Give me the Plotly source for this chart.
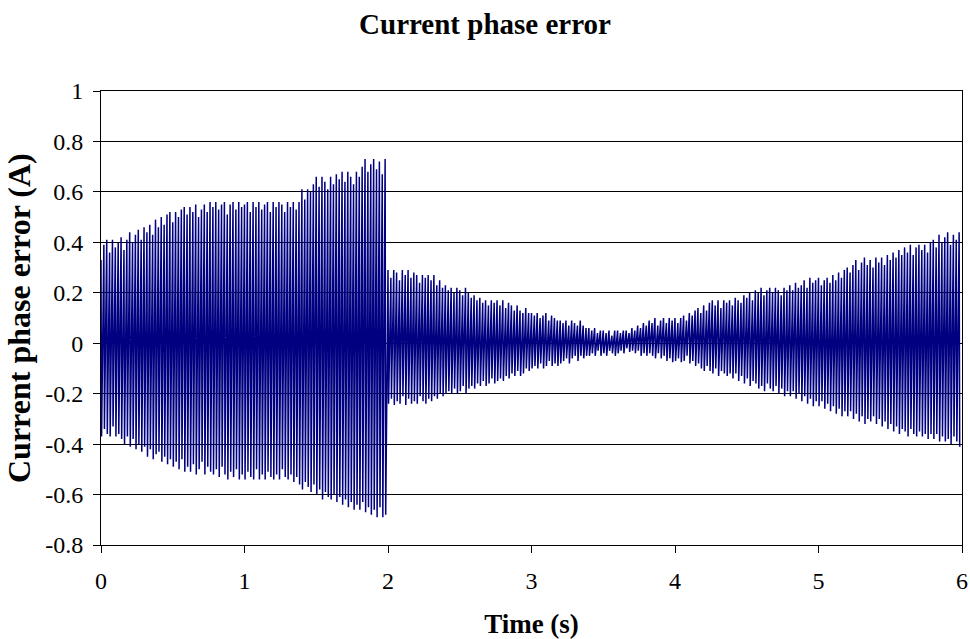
import numpy as np
import plotly.graph_objects as go

# Upper peak of each 0.02 s cycle (A), one row per second, starting at t = 0.00
upper_peaks = [
    # 0 - 1 s
    0.33, 0.39, 0.41, 0.36, 0.41, 0.38, 0.40, 0.42, 0.37, 0.41,
    0.44, 0.40, 0.43, 0.45, 0.41, 0.46, 0.44, 0.47, 0.43, 0.49,
    0.46, 0.50, 0.47, 0.51, 0.52, 0.48, 0.52, 0.50, 0.53, 0.54,
    0.51, 0.54, 0.52, 0.55, 0.50, 0.53, 0.55, 0.52, 0.56, 0.54,
    0.56, 0.53, 0.55, 0.56, 0.51, 0.55, 0.56, 0.53, 0.56, 0.54,
    # 1 - 2 s
    0.55, 0.56, 0.52, 0.56, 0.54, 0.56, 0.53, 0.55, 0.56, 0.52,
    0.56, 0.54, 0.56, 0.55, 0.52, 0.56, 0.54, 0.56, 0.53, 0.56,
    0.61, 0.57, 0.61, 0.60, 0.63, 0.66, 0.62, 0.66, 0.64, 0.61,
    0.66, 0.63, 0.67, 0.65, 0.68, 0.64, 0.68, 0.66, 0.63, 0.68,
    0.66, 0.70, 0.73, 0.68, 0.71, 0.73, 0.69, 0.72, 0.67, 0.73,
    # 2 - 3 s
    0.29, 0.26, 0.29, 0.28, 0.25, 0.29, 0.27, 0.29, 0.26, 0.28,
    0.27, 0.24, 0.27, 0.26, 0.27, 0.25, 0.27, 0.23, 0.25, 0.22,
    0.23, 0.21, 0.22, 0.20, 0.22, 0.21, 0.19, 0.22, 0.20, 0.18,
    0.19, 0.17, 0.18, 0.16, 0.17, 0.15, 0.17, 0.16, 0.17, 0.15,
    0.17, 0.14, 0.16, 0.15, 0.13, 0.15, 0.13, 0.12, 0.14, 0.12,
    # 3 - 4 s
    0.12, 0.11, 0.12, 0.10, 0.11, 0.12, 0.09, 0.11, 0.10, 0.09,
    0.09, 0.08, 0.09, 0.07, 0.09, 0.08, 0.07, 0.09, 0.07, 0.06,
    0.06, 0.05, 0.06, 0.04, 0.05, 0.05, 0.04, 0.05, 0.03, 0.05,
    0.05, 0.04, 0.05, 0.05, 0.04, 0.06, 0.05, 0.07, 0.06, 0.08,
    0.07, 0.09, 0.08, 0.10, 0.07, 0.09, 0.10, 0.08, 0.10, 0.09,
    # 4 - 5 s
    0.10, 0.08, 0.10, 0.11, 0.09, 0.12, 0.11, 0.13, 0.14, 0.12,
    0.15, 0.13, 0.16, 0.17, 0.15, 0.17, 0.14, 0.17, 0.16, 0.17,
    0.15, 0.18, 0.17, 0.16, 0.19, 0.18, 0.20, 0.17, 0.21, 0.20,
    0.22, 0.19, 0.21, 0.22, 0.20, 0.22, 0.21, 0.19, 0.22, 0.21,
    0.23, 0.21, 0.24, 0.22, 0.23, 0.25, 0.22, 0.26, 0.24, 0.25,
    # 5 - 6 s
    0.26, 0.23, 0.25, 0.26, 0.24, 0.27, 0.25, 0.28, 0.26, 0.29,
    0.30, 0.28, 0.31, 0.33, 0.29, 0.32, 0.34, 0.31, 0.33, 0.30,
    0.34, 0.32, 0.34, 0.31, 0.35, 0.33, 0.36, 0.34, 0.37, 0.35,
    0.38, 0.36, 0.39, 0.35, 0.38, 0.39, 0.37, 0.39, 0.36, 0.40,
    0.41, 0.38, 0.43, 0.40, 0.42, 0.44, 0.39, 0.43, 0.41, 0.44,
]

# Lower peak of each 0.02 s cycle (A), one row per second
lower_peaks = [
    # 0 - 1 s
    -0.37, -0.34, -0.36, -0.37, -0.33, -0.37, -0.36, -0.38, -0.40, -0.37,
    -0.41, -0.38, -0.42, -0.40, -0.43, -0.41, -0.45, -0.42, -0.46, -0.44,
    -0.43, -0.47, -0.45, -0.48, -0.46, -0.49, -0.47, -0.50, -0.46, -0.51,
    -0.49, -0.51, -0.48, -0.52, -0.50, -0.47, -0.52, -0.49, -0.51, -0.52,
    -0.50, -0.53, -0.49, -0.52, -0.54, -0.51, -0.53, -0.50, -0.54, -0.52,
    # 1 - 2 s
    -0.54, -0.51, -0.53, -0.54, -0.50, -0.54, -0.52, -0.54, -0.51, -0.53,
    -0.54, -0.52, -0.54, -0.50, -0.53, -0.54, -0.52, -0.55, -0.53, -0.56,
    -0.58, -0.55, -0.57, -0.59, -0.56, -0.60, -0.58, -0.62, -0.59, -0.61,
    -0.62, -0.60, -0.63, -0.61, -0.64, -0.62, -0.65, -0.63, -0.66, -0.64,
    -0.66, -0.63, -0.67, -0.65, -0.68, -0.66, -0.69, -0.65, -0.69, -0.68,
    # 2 - 3 s
    -0.24, -0.22, -0.245, -0.23, -0.24, -0.21, -0.245, -0.22, -0.24, -0.23,
    -0.24, -0.21, -0.23, -0.24, -0.22, -0.23, -0.21, -0.22, -0.20, -0.21,
    -0.20, -0.19, -0.20, -0.18, -0.20, -0.19, -0.17, -0.20, -0.18, -0.17,
    -0.18, -0.16, -0.17, -0.15, -0.17, -0.16, -0.14, -0.16, -0.15, -0.14,
    -0.15, -0.13, -0.14, -0.12, -0.13, -0.11, -0.13, -0.12, -0.10, -0.11,
    # 3 - 4 s
    -0.10, -0.09, -0.10, -0.08, -0.10, -0.09, -0.07, -0.09, -0.08, -0.09,
    -0.08, -0.07, -0.06, -0.08, -0.06, -0.05, -0.07, -0.05, -0.06, -0.05,
    -0.05, -0.04, -0.05, -0.03, -0.05, -0.04, -0.05, -0.03, -0.04, -0.05,
    -0.04, -0.03, -0.04, -0.02, -0.035, -0.03, -0.04, -0.03, -0.05, -0.04,
    -0.05, -0.04, -0.05, -0.06, -0.04, -0.06, -0.05, -0.07, -0.06, -0.075,
    # 4 - 5 s
    -0.07, -0.06, -0.075, -0.07, -0.05, -0.08, -0.07, -0.09, -0.08, -0.10,
    -0.11, -0.09, -0.11, -0.12, -0.10, -0.13, -0.11, -0.12, -0.13, -0.12,
    -0.14, -0.12, -0.15, -0.13, -0.16, -0.14, -0.17, -0.15, -0.16, -0.18,
    -0.17, -0.19, -0.16, -0.18, -0.19, -0.17, -0.20, -0.18, -0.21, -0.19,
    -0.21, -0.19, -0.22, -0.20, -0.23, -0.21, -0.24, -0.22, -0.25, -0.23,
    # 5 - 6 s
    -0.25, -0.23, -0.26, -0.24, -0.27, -0.25, -0.28, -0.26, -0.29, -0.27,
    -0.29, -0.27, -0.30, -0.28, -0.31, -0.29, -0.32, -0.30, -0.31, -0.29,
    -0.32, -0.30, -0.33, -0.31, -0.34, -0.32, -0.35, -0.33, -0.36, -0.34,
    -0.35, -0.37, -0.34, -0.36, -0.37, -0.35, -0.37, -0.36, -0.38, -0.36,
    -0.38, -0.36, -0.39, -0.37, -0.39, -0.38, -0.40, -0.37, -0.39, -0.41,
]

cycle_period = 0.02      # s
fall_time = 0.004        # s, time from upper to lower peak within a cycle
x_ticks = [0, 1, 2, 3, 4, 5, 6]
y_ticks = [-0.8, -0.6, -0.4, -0.2, 0, 0.2, 0.4, 0.6, 0.8, 1]
y_tick_labels = ["-0.8", "-0.6", "-0.4", "-0.2", "0", "0.2", "0.4", "0.6", "0.8", "1"]

t_vals = []
i_vals = []
for k, (u, l) in enumerate(zip(upper_peaks, lower_peaks)):
    t0 = k * cycle_period
    t_vals.extend([t0, t0 + fall_time])
    i_vals.extend([u, l])

fig = go.Figure()
fig.add_trace(go.Scatter(
    x=t_vals, y=i_vals, mode="lines",
    line=dict(color="#000080", width=1.5),
    showlegend=False,
))

font_family = "Liberation Serif, Times New Roman, serif"
fig.update_layout(
    width=970, height=639,
    paper_bgcolor="white", plot_bgcolor="white",
    margin=dict(l=101, r=8, t=91, b=94),
    title=dict(text="<b>Current phase error</b>", x=0.5, xanchor="center",
               y=1 - 24 / 639, yanchor="middle",
               font=dict(family=font_family, size=29, color="black")),
    font=dict(family=font_family, size=24, color="black"),
    xaxis=dict(
        range=[0, 6], tickvals=x_ticks, ticktext=[str(v) for v in x_ticks],
        showgrid=False, zeroline=False, automargin=False,
        showline=True, linecolor="black", linewidth=1, mirror=True,
        ticks="outside", ticklen=7, tickcolor="black", ticklabelstandoff=7,
        title=dict(text="<b>Time (s)</b>", font=dict(size=27), standoff=22),
    ),
    yaxis=dict(
        range=[-0.8, 1], tickvals=y_ticks, ticktext=y_tick_labels,
        showgrid=True, gridcolor="black", gridwidth=1, zeroline=False, automargin=False,
        showline=True, linecolor="black", linewidth=1, mirror=True,
        ticks="outside", ticklen=7, tickcolor="black", ticklabelstandoff=5,
    ),
    annotations=[dict(
        text="<b>Current phase error (A)</b>", textangle=-90,
        xref="paper", yref="paper", x=0, y=0.5,
        xanchor="center", yanchor="middle", xshift=-82, showarrow=False,
        font=dict(family=font_family, size=32, color="black"),
    )],
)

# Remove the browser's default 8 px body margin so the figure fills the window exactly
fig.write_html("out.html", config={"displayModeBar": False},
               post_script="document.body.style.margin='0';")
